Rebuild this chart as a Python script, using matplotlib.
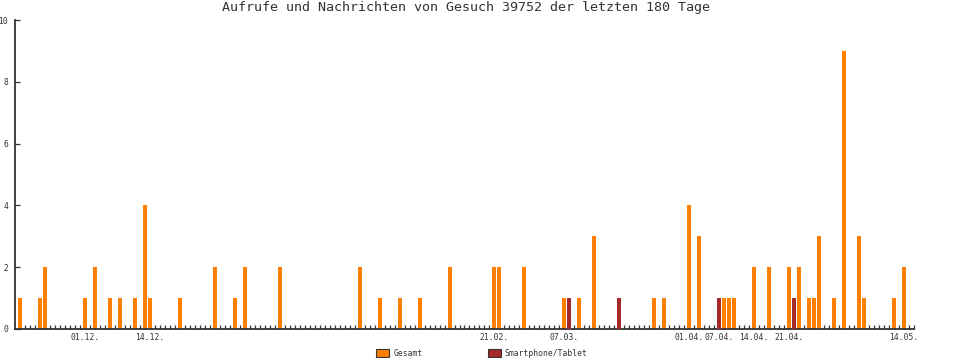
import datetime as dt

import matplotlib
matplotlib.use("Agg")
import matplotlib.pyplot as plt
from matplotlib.patches import Patch
import numpy as np


START = dt.date(2022, 11, 18)
N_DAYS = 180

# daily totals (only days with activity)
gesamt_days = [
    "2022-11-18", "2022-11-22", "2022-11-23", "2022-12-01", "2022-12-03",
    "2022-12-06", "2022-12-08", "2022-12-11", "2022-12-13", "2022-12-14",
    "2022-12-20", "2022-12-27", "2022-12-31", "2023-01-02", "2023-01-09",
    "2023-01-25", "2023-01-29", "2023-02-02", "2023-02-06", "2023-02-12",
    "2023-02-21", "2023-02-22", "2023-02-27", "2023-03-07", "2023-03-08",
    "2023-03-10", "2023-03-13", "2023-03-18", "2023-03-25", "2023-03-27",
    "2023-04-01", "2023-04-03", "2023-04-07", "2023-04-08", "2023-04-09",
    "2023-04-10", "2023-04-14", "2023-04-17", "2023-04-21", "2023-04-22",
    "2023-04-23", "2023-04-25", "2023-04-26", "2023-04-27", "2023-04-30",
    "2023-05-02", "2023-05-05", "2023-05-06", "2023-05-12", "2023-05-14",
]
gesamt_values = [
    1, 1, 2, 1, 2,
    1, 1, 1, 4, 1,
    1, 2, 1, 2, 2,
    2, 1, 1, 1, 2,
    2, 2, 2, 1, 1,
    1, 3, 1, 1, 1,
    4, 3, 1, 1, 1,
    1, 2, 2, 2, 1,
    2, 1, 1, 3, 1,
    9, 3, 1, 1, 2,
]

mobile_days = ["2023-03-08", "2023-03-18", "2023-04-07", "2023-04-22"]
mobile_values = [1, 1, 1, 1]

label_days = [
    "2022-12-01", "2022-12-14", "2023-02-21", "2023-03-07", "2023-04-01",
    "2023-04-07", "2023-04-14", "2023-04-21", "2023-05-14",
]

ORANGE = "#ff8000"
RED = "#a52a2a"
AXIS = "#333333"


def day_index(s):
    return (dt.date.fromisoformat(s) - START).days


def to_series(days, values):
    arr = np.zeros(N_DAYS)
    for d, v in zip(days, values):
        arr[day_index(d)] = v
    return arr


gesamt = to_series(gesamt_days, gesamt_values)
mobile = to_series(mobile_days, mobile_values)
x = np.arange(N_DAYS)

fig = plt.figure(figsize=(9.7, 3.58), dpi=100)
ax = fig.add_axes([15 / 970, 29 / 358, 899 / 970, 309 / 358])

ax.bar(x, gesamt, width=0.8, color=ORANGE, linewidth=0, zorder=2)
ax.bar(x, mobile, width=0.8, color=RED, linewidth=0, zorder=3)

ax.set_xlim(-1, -1 + 899 / 5)
ax.set_ylim(0, 10)

for side in ["top", "right"]:
    ax.spines[side].set_visible(False)
for side in ["left", "bottom"]:
    ax.spines[side].set_color(AXIS)
    ax.spines[side].set_linewidth(1.3)

mono = "DejaVu Sans Mono"
ax.set_xticks(x, minor=True)
ax.set_xticks([day_index(d) for d in label_days])
ax.set_xticklabels([dt.date.fromisoformat(d).strftime("%d.%m.") for d in label_days],
                   family=mono, fontsize=5.8, color=AXIS)
ax.tick_params(axis="x", which="both", direction="in", length=3, width=0.9,
               color=AXIS, pad=3)
ax.set_yticks([0, 2, 4, 6, 8, 10])
ax.set_yticklabels(["0", "2", "4", "6", "8", "10"], family=mono, fontsize=5.8,
                   color=AXIS)
ax.tick_params(axis="y", direction="in", length=3.5, width=0.9, color=AXIS, pad=5)
ax.set_axisbelow(True)

fig.text(0.48, 1 - 8 / 358, "Aufrufe und Nachrichten von Gesuch 39752 der letzten 180 Tage",
         ha="center", va="center", family=mono, fontsize=9.6, color=AXIS)

handles = [
    Patch(facecolor=ORANGE, edgecolor=AXIS, linewidth=0.8, label="Gesamt"),
    Patch(facecolor=RED, edgecolor=AXIS, linewidth=0.8, label="Smartphone/Tablet"),
]
leg = fig.legend(handles=handles, loc="center", bbox_to_anchor=(482 / 970, 1 - 353 / 358),
                 ncol=2, frameon=False, prop={"family": mono, "size": 5.8},
                 handlelength=1.6, handleheight=1.1, handletextpad=0.5,
                 columnspacing=8.1, borderpad=0)
for t in leg.get_texts():
    t.set_color(AXIS)

fig.savefig("out.png", dpi=100)
